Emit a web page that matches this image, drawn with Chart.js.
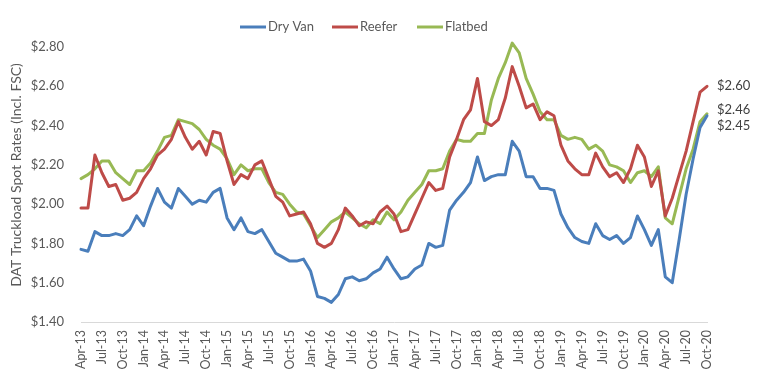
<!DOCTYPE html>
<html lang="en">
<head>
    <meta charset="utf-8">
    <title>DAT Truckload Spot Rates</title>
    <script src="https://cdn.jsdelivr.net/npm/chart.js"></script>
    <style>
        html, body { margin: 0; padding: 0; background: #fff; }
        #grafico { display: block; }
    </style>
</head>
<body>
    <canvas id="grafico" width="764" height="389"></canvas>

    <script>
        // meses Apr-13 .. Oct-20
        const meses = ['Jan', 'Feb', 'Mar', 'Apr', 'May', 'Jun', 'Jul', 'Aug', 'Sep', 'Oct', 'Nov', 'Dec'];
        const categorias = [];
        for (let a = 2013; a <= 2020; a++) {
            for (let m = 0; m < 12; m++) {
                if (a === 2013 && m < 3) continue;
                if (a === 2020 && m > 9) continue;
                categorias.push(meses[m] + '-' + String(a).slice(2));
            }
        }

        const dryVan = [
            1.77, 1.76, 1.86, 1.84, 1.84, 1.85, 1.84, 1.87, 1.94, 1.89, 1.99, 2.08,
            2.01, 1.98, 2.08, 2.04, 2.00, 2.02, 2.01, 2.06, 2.08, 1.93, 1.87, 1.93,
            1.86, 1.85, 1.87, 1.81, 1.75, 1.73, 1.71, 1.71, 1.72, 1.66, 1.53, 1.52,
            1.50, 1.54, 1.62, 1.63, 1.61, 1.62, 1.65, 1.67, 1.73, 1.67, 1.62, 1.63,
            1.67, 1.69, 1.80, 1.78, 1.79, 1.97, 2.02, 2.06, 2.11, 2.24, 2.12, 2.14,
            2.15, 2.15, 2.32, 2.27, 2.14, 2.14, 2.08, 2.08, 2.07, 1.95, 1.88, 1.83,
            1.81, 1.80, 1.90, 1.84, 1.82, 1.84, 1.80, 1.83, 1.94, 1.87, 1.79, 1.87,
            1.63, 1.60, 1.82, 2.05, 2.23, 2.39, 2.45
        ];

        const reefer = [
            1.98, 1.98, 2.25, 2.16, 2.09, 2.10, 2.02, 2.03, 2.06, 2.13, 2.18, 2.25,
            2.28, 2.33, 2.42, 2.34, 2.28, 2.32, 2.25, 2.37, 2.36, 2.22, 2.10, 2.15,
            2.13, 2.20, 2.22, 2.13, 2.04, 2.01, 1.94, 1.95, 1.96, 1.90, 1.80, 1.78,
            1.80, 1.87, 1.98, 1.94, 1.89, 1.91, 1.90, 1.96, 1.99, 1.95, 1.86, 1.87,
            1.95, 2.03, 2.11, 2.07, 2.08, 2.24, 2.33, 2.43, 2.48, 2.64, 2.42, 2.40,
            2.43, 2.54, 2.70, 2.60, 2.49, 2.51, 2.43, 2.47, 2.45, 2.30, 2.22, 2.18,
            2.15, 2.15, 2.26, 2.19, 2.14, 2.16, 2.11, 2.18, 2.30, 2.24, 2.09, 2.17,
            1.94, 2.03, 2.15, 2.27, 2.42, 2.57, 2.60
        ];

        const flatbed = [
            2.13, 2.15, 2.18, 2.22, 2.22, 2.16, 2.13, 2.10, 2.17, 2.17, 2.21, 2.27,
            2.34, 2.35, 2.43, 2.42, 2.41, 2.38, 2.33, 2.30, 2.28, 2.23, 2.15, 2.20,
            2.17, 2.18, 2.18, 2.11, 2.06, 2.05, 2.00, 1.96, 1.95, 1.89, 1.83, 1.87,
            1.91, 1.93, 1.96, 1.93, 1.90, 1.88, 1.92, 1.90, 1.96, 1.92, 1.96, 2.02,
            2.06, 2.10, 2.17, 2.17, 2.18, 2.27, 2.33, 2.32, 2.32, 2.36, 2.36, 2.53,
            2.64, 2.72, 2.82, 2.77, 2.64, 2.56, 2.47, 2.43, 2.43, 2.35, 2.33, 2.34,
            2.33, 2.28, 2.30, 2.27, 2.20, 2.19, 2.17, 2.11, 2.16, 2.17, 2.14, 2.19,
            1.93, 1.90, 2.04, 2.18, 2.28, 2.42, 2.46
        ];

        const eixoY = { min: 1.40, max: 2.80, passo: 0.20 };
        const tituloY = 'DAT Truckload Spot Rates (Incl. FSC)';
        const fonte = 'Lato, "Open Sans", sans-serif';

        // legenda, título do eixo e rótulos finais
        const extras = {
            id: 'extras',
            afterDatasetsDraw(chart) {
                const ctx = chart.ctx;
                const sets = chart.data.datasets;
                ctx.save();
                ctx.font = '13px ' + fonte;
                ctx.textBaseline = 'middle';

                // legenda
                const posLeg = [240, 332, 417];
                sets.forEach((ds, i) => {
                    const x = posLeg[i];
                    ctx.strokeStyle = ds.borderColor;
                    ctx.lineWidth = 3;
                    ctx.beginPath();
                    ctx.moveTo(x, 27);
                    ctx.lineTo(x + 26, 27);
                    ctx.stroke();
                    ctx.fillStyle = '#595959';
                    ctx.textAlign = 'left';
                    ctx.fillText(ds.label, x + 28, 27);
                });

                // título do eixo y
                ctx.save();
                ctx.font = '14px ' + fonte;
                ctx.translate(16, 175);
                ctx.rotate(-Math.PI / 2);
                ctx.textAlign = 'center';
                ctx.fillStyle = '#595959';
                ctx.fillText(tituloY, 0, 0);
                ctx.restore();

                // valores do último mês
                const y = chart.scales.y;
                const ultimo = categorias.length - 1;
                const offs = [10, 0, -4];
                ctx.fillStyle = '#404040';
                ctx.textAlign = 'left';
                sets.forEach((ds, i) => {
                    const v = ds.data[ultimo];
                    ctx.fillText('$' + v.toFixed(2), 717, y.getPixelForValue(v) + offs[i]);
                });
                ctx.restore();
            }
        };

        const ctx = document.getElementById('grafico').getContext('2d');
        new Chart(ctx, {
            type: 'line',
            data: {
                labels: categorias,
                datasets: [
                    { label: 'Dry Van', data: dryVan, borderColor: '#4A7EBB', borderWidth: 3, clip: 8 },
                    { label: 'Reefer', data: reefer, borderColor: '#BE4B48', borderWidth: 3, clip: 8 },
                    { label: 'Flatbed', data: flatbed, borderColor: '#98B954', borderWidth: 3, clip: 8 }
                ]
            },
            options: {
                responsive: false,
                animation: false,
                elements: {
                    point: { radius: 0 },
                    line: { tension: 0, borderJoinStyle: 'round', borderCapStyle: 'round' }
                },
                layout: { padding: { left: 0, right: 57, top: 47, bottom: 0 } },
                plugins: {
                    legend: { display: false },
                    tooltip: { enabled: false }
                },
                scales: {
                    x: {
                        type: 'category',
                        offset: false,
                        grid: { display: false, drawTicks: false },
                        border: { display: true, color: '#D9D9D9', width: 1 },
                        ticks: {
                            autoSkip: false,
                            minRotation: 90,
                            maxRotation: 90,
                            padding: 8,
                            color: '#595959',
                            font: { family: fonte, size: 12.5 },
                            callback: function (v, i) {
                                return i % 3 === 0 ? categorias[i] : null;
                            }
                        },
                        afterFit: s => { s.height = 67; }
                    },
                    y: {
                        min: eixoY.min,
                        max: eixoY.max,
                        grid: { display: false, drawTicks: false },
                        border: { display: false },
                        ticks: {
                            stepSize: eixoY.passo,
                            padding: 17,
                            color: '#595959',
                            font: { family: fonte, size: 13 },
                            callback: v => '$' + v.toFixed(2)
                        },
                        afterFit: s => { s.width = 81; }
                    }
                }
            },
            plugins: [extras]
        });
    </script>
</body>
</html>
